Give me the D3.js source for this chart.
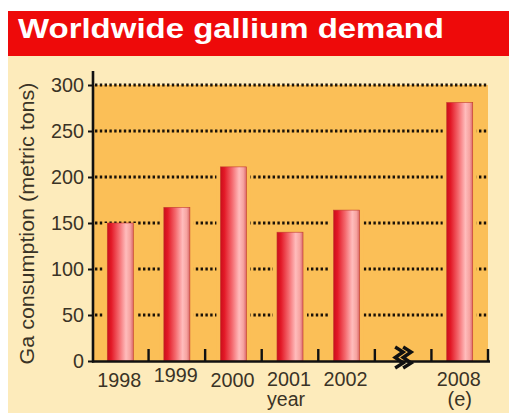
<!DOCTYPE html>
<html>
<head>
<meta charset="utf-8">
<script src="https://cdn.jsdelivr.net/npm/d3@7"></script>
<style>
  html, body { margin: 0; padding: 0; background: #ffffff; }
  svg { display: block; }
  text { font-family: "Liberation Sans", Arial, sans-serif; }
</style>
</head>
<body>
<svg id="chart" width="509" height="414"></svg>
<script>
// ---- data ----
const categories = ["1998", "1999", "2000", "2001", "2002", "2008"];
const values = [150, 167, 211, 140, 164, 281];
const subLabels = ["", "", "", "", "", "(e)"];
const slots = ["1998", "1999", "2000", "2001", "2002", "gap", "2008"];
const yTicks = [0, 50, 100, 150, 200, 250, 300];
const title = "Worldwide gallium demand";
const yTitle = "Ga consumption (metric tons)";
const xTitle = "year";

const svg = d3.select("#chart");
const W = 509, H = 414;
const ink = "#3a3326";

// backgrounds
svg.append("rect").attr("x", 8).attr("y", 56).attr("width", W - 8).attr("height", 357).attr("fill", "#fdebbb");
svg.append("rect").attr("x", 8).attr("y", 11).attr("width", W - 8).attr("height", 45).attr("fill", "#ee0a0a");
svg.append("text").attr("x", 18).attr("y", 38)
  .attr("fill", "#ffffff").attr("font-size", 28).attr("font-weight", "bold")
  .attr("font-family", "'DejaVu Sans', sans-serif")
  .attr("textLength", 426).attr("lengthAdjust", "spacingAndGlyphs")
  .text(title);

const x0 = 92, x1 = 488, yTop = 85, yBot = 361;
const x = d3.scaleBand().domain(slots).range([x0, x1]).paddingInner(0.54).paddingOuter(0.27);
const y = d3.scaleLinear().domain([0, 300]).range([yBot, yTop]);

// plot area
svg.append("rect").attr("x", x0).attr("y", y(300)).attr("width", x1 - x0).attr("height", yBot - y(300)).attr("fill", "#fbbf57");

// gridlines
svg.append("g").selectAll("line").data(yTicks.filter(d => d > 0)).join("line")
  .attr("x1", x0 + 3).attr("x2", x1 - 1)
  .attr("y1", d => y(d)).attr("y2", d => y(d))
  .attr("stroke", "#1a1208").attr("stroke-width", 3).attr("stroke-dasharray", "2.4 2.4");

// bar gradient
const defs = svg.append("defs");
const grad = defs.append("linearGradient").attr("id", "barGrad").attr("x1", "0").attr("x2", "1").attr("y1", "0").attr("y2", "0");
[[0, "#c8101c"], [0.15, "#e31826"], [0.45, "#f46a6f"], [0.72, "#ffbcbc"], [0.88, "#f6a3a0"], [1, "#d9676a"]]
  .forEach(([o, c]) => grad.append("stop").attr("offset", o).attr("stop-color", c));

const data = categories.map((c, i) => ({ c, v: values[i], sub: subLabels[i] }));
const bw = x.bandwidth();

// orange gaps around bars (interrupt the dotted lines)
svg.append("g").selectAll("rect").data(data).join("rect")
  .attr("x", d => x(d.c) - 4).attr("width", bw + 8)
  .attr("y", d => y(d.v)).attr("height", d => y(0) - y(d.v))
  .attr("fill", "#fbbf57");

svg.append("g").selectAll("rect").data(data).join("rect")
  .attr("x", d => x(d.c)).attr("width", bw)
  .attr("y", d => y(d.v)).attr("height", d => y(0) - y(d.v))
  .attr("fill", "url(#barGrad)")
  .attr("stroke", "#c23a2e").attr("stroke-width", 0.6);

// y axis
const yAxis = d3.axisLeft(y).tickValues(yTicks).tickSize(5).tickPadding(4);
const gy = svg.append("g").attr("transform", `translate(${x0 + 1},0)`).call(yAxis);
gy.select(".domain").remove();
gy.selectAll(".tick line").attr("stroke", "#111").attr("stroke-width", 2);
gy.selectAll(".tick text").attr("font-size", 21).attr("fill", ink)
  .attr("font-family", "'Liberation Sans', Arial, sans-serif")
  .attr("textLength", d => String(d).length * 11).attr("lengthAdjust", "spacingAndGlyphs");
svg.append("line").attr("x1", x0 + 1).attr("x2", x0 + 1).attr("y1", 71).attr("y2", yBot + 1.5)
  .attr("stroke", "#111").attr("stroke-width", 2.6);

// x axis line
svg.append("line").attr("x1", x0).attr("x2", x1 + 2).attr("y1", yBot + 0.5).attr("y2", yBot + 0.5)
  .attr("stroke", "#111").attr("stroke-width", 2.6);

// separator ticks (band boundaries)
const step = x.step();
const sepX = slots.map(s => x(s) + bw + (step - bw) / 2).filter(v => v <= x1 + 1);
svg.append("g").selectAll("line").data(sepX).join("line")
  .attr("x1", d => d).attr("x2", d => d).attr("y1", yBot - 12).attr("y2", yBot)
  .attr("stroke", "#111").attr("stroke-width", 2.4);

// break symbol
const bx = x("gap") + bw / 2 - 8;
const zig = d3.line();
[0, 8].forEach(off => {
  svg.append("path")
    .attr("d", zig([[bx + off, 347], [bx + off + 8, 352], [bx + off, 357.5], [bx + off + 8, 363], [bx + off, 368]]))
    .attr("fill", "none").attr("stroke", "#111").attr("stroke-width", 3.4).attr("stroke-linejoin", "miter");
});

// x labels
const labelY = { "1998": 387, "1999": 382, "2000": 387, "2001": 386, "2002": 386, "2008": 386 };
svg.append("g").selectAll("text").data(data).join("text")
  .attr("x", d => x(d.c) + bw / 2 - 1).attr("y", d => labelY[d.c])
  .attr("text-anchor", "middle").attr("font-size", 21).attr("fill", ink)
  .attr("textLength", 44).attr("lengthAdjust", "spacingAndGlyphs")
  .text(d => d.c);
svg.append("g").selectAll("text").data(data.filter(d => d.sub)).join("text")
  .attr("x", d => x(d.c) + bw / 2).attr("y", 406)
  .attr("text-anchor", "middle").attr("font-size", 20).attr("fill", ink)
  .text(d => d.sub);
svg.append("text").attr("x", 286).attr("y", 406).attr("text-anchor", "middle")
  .attr("font-size", 20).attr("fill", ink)
  .attr("textLength", 38).attr("lengthAdjust", "spacingAndGlyphs").text(xTitle);

// y title
svg.append("text").attr("transform", `translate(34,${(82 + 365) / 2}) rotate(-90)`)
  .attr("text-anchor", "middle").attr("font-size", 20).attr("fill", ink)
  .attr("textLength", 282).attr("lengthAdjust", "spacingAndGlyphs")
  .text(yTitle);
</script>
</body>
</html>
